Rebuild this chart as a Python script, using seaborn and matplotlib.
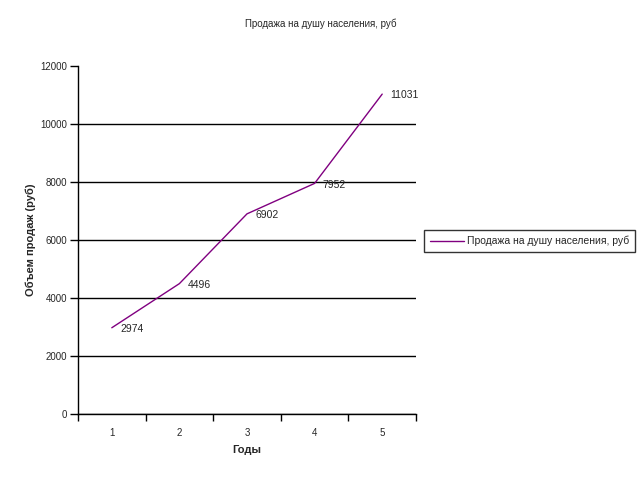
import pandas as pd
import seaborn as sns
import matplotlib.pyplot as plt

# Data
years = [1, 2, 3, 4, 5]
sales = [2974, 4496, 6902, 7952, 11031]
series_name = "Продажа на душу населения, руб"

df = pd.DataFrame({"Год": years, "Продажи": sales})

sns.set_style("white")
plt.rcParams['font.family'] = ['Liberation Sans', 'DejaVu Sans']

fig = plt.figure(figsize=(6.42, 4.8), dpi=100)
ax = fig.add_axes([78 / 642, 66 / 480, (416 - 78) / 642, (414 - 66) / 480])

sns.lineplot(data=df, x="Год", y="Продажи", color="#800080", linewidth=1,
             ax=ax, label=series_name, legend=False)

# value labels next to each point
for x, y in zip(years, sales):
    ax.annotate(str(y), (x, y), xytext=(6, -1), textcoords="offset points",
                ha="left", va="center", fontsize=7.5)

ax.set_xlim(0.5, 5.5)
ax.set_ylim(0, 12000)
ax.set_yticks(range(0, 12001, 2000))
ax.set_xticks(years)
ax.set_xticks([0.5, 1.5, 2.5, 3.5, 4.5, 5.5], minor=True)
ax.tick_params(axis="x", which="major", bottom=False, length=0, pad=10, labelsize=7)
ax.tick_params(axis="x", which="minor", bottom=True, length=5, width=1,
               color="black", direction="out")
ax.tick_params(axis="y", left=True, length=6, width=1, color="black",
               direction="out", labelsize=7, pad=2)
ax.yaxis.grid(True, color="black", linewidth=1)
ax.xaxis.grid(False)
# no gridline along the top of the plot area
ax.yaxis.get_gridlines()[-1].set_visible(False)

for side in ["top", "right"]:
    ax.spines[side].set_visible(False)
for side in ["left", "bottom"]:
    ax.spines[side].set_color("black")
    ax.spines[side].set_linewidth(1)

ax.set_xlabel("Годы", fontsize=8, fontweight="bold", labelpad=5)
ax.set_ylabel("Объем продаж (руб)", fontsize=8, fontweight="bold", labelpad=3)
fig.text(0.5, 1 - 24 / 480, series_name, ha="center", va="center", fontsize=7)

handles, labels = ax.get_legend_handles_labels()
leg = fig.legend(handles, labels, loc="center left",
                 bbox_to_anchor=(424 / 642, 1 - 241 / 480), fontsize=7.5,
                 frameon=True, fancybox=False, edgecolor="black",
                 handlelength=3.2, borderpad=0.6, handletextpad=0.3,
                 borderaxespad=0)
leg.get_frame().set_linewidth(1)

plt.savefig("out.png", dpi=100)
